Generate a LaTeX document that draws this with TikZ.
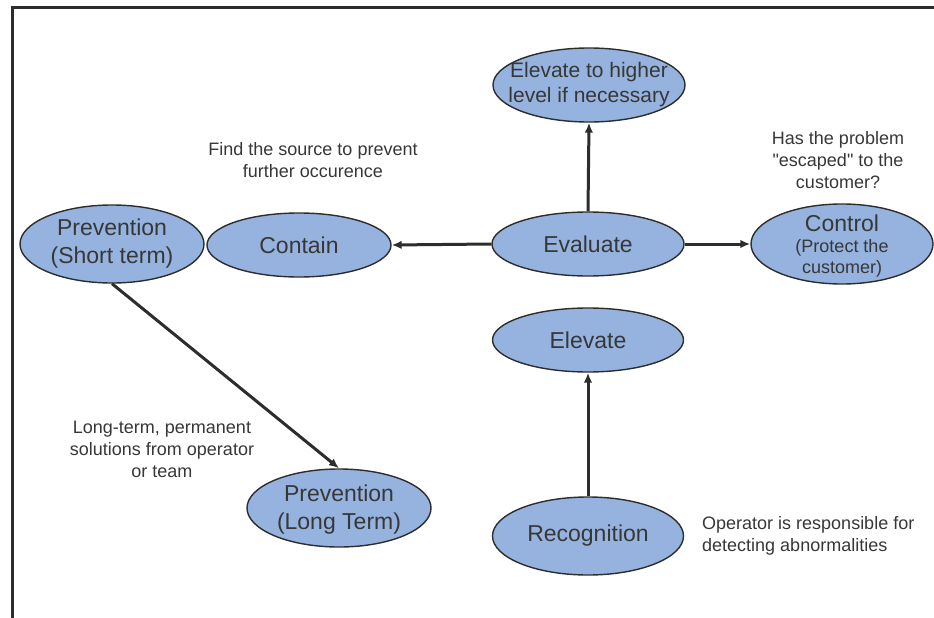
\documentclass[tikz,border=0pt]{standalone}
\usepackage{fontspec}
\setmainfont{Liberation Sans}[Ligatures=TeXOff]
\usetikzlibrary{shapes.geometric,arrows.meta}
\definecolor{bubblefill}{RGB}{149,179,222}
\definecolor{ink}{RGB}{45,45,45}
\definecolor{txt}{RGB}{55,55,55}
\begin{document}
\begin{tikzpicture}[x=1pt,y=-1pt,
  bubble/.style={ellipse,draw=ink,line width=1.4pt,fill=bubblefill,inner sep=0pt},
  nodetext/.style={text=txt,align=center,font=\fontsize{23}{28}\selectfont,inner sep=0pt},
  note/.style={text=txt,align=center,font=\fontsize{18}{22}\selectfont,inner sep=0pt},
  flow/.style={draw=ink,line width=3pt,-{Latex[length=10pt,width=8.5pt]}}]
\useasboundingbox (0,0) rectangle (934,618);
% open frame along the top and left edges
\draw[ink,line width=3pt] (12,618) -- (12,8) -- (934,8);

% ellipses
\node[bubble,minimum width=192,minimum height=74] (high) at (589,85) {};
\node[bubble,minimum width=192,minimum height=64] (eval) at (588,244) {};
\node[bubble,minimum width=184,minimum height=64] (contain) at (299,245) {};
\node[bubble,minimum width=184,minimum height=78] (pshort) at (112,244) {};
\node[bubble,minimum width=182,minimum height=80] (control) at (842,244) {};
\node[bubble,minimum width=191,minimum height=64] (elev) at (588,340) {};
\node[bubble,minimum width=191,minimum height=78] (recog) at (588,536) {};
\node[bubble,minimum width=184,minimum height=78] (plong) at (339,508) {};

% ellipse texts
\node[nodetext,font=\fontsize{21}{25}\selectfont] (highT) at (high) {Elevate to higher\\level if necessary};
\node[nodetext] (evalT) at (eval) {Evaluate};
\node[nodetext] (containT) at (contain) {Contain};
\node[nodetext] (pshortT) at (pshort) {Prevention\\(Short term)};
\node[nodetext,font=\fontsize{18}{21}\selectfont] (controlT) at (842,246) {{\fontsize{23}{26}\selectfont Control}\\(Protect the\\customer)};
\node[nodetext] (elevT) at (elev) {Elevate};
\node[nodetext] (recogT) at (recog) {Recognition};
\node[nodetext] (plongT) at (339,510) {Prevention\\(Long Term)};

% connectors
\draw[flow] (eval.west) -- (contain.east);
\draw[flow] (eval.east) -- (control.west);
\draw[flow] (eval.north) -- (high.south);
\draw[flow] (recog.north) -- (elev.south);
\draw[flow] (pshort.south) -- (plong.north);

% side notes
\node[note] (noteContain) at (313,160) {Find the source to prevent\\further occurence};
\node[note] (noteControl) at (838,160) {Has the problem\\"escaped" to the\\customer?};
\node[note] (noteLong) at (162,449) {Long-term, permanent\\solutions from operator\\or team};
\node[note,align=left,anchor=west] (noteRecog) at (702,536) {Operator is responsible for\\detecting abnormalities};
\end{tikzpicture}
\end{document}
